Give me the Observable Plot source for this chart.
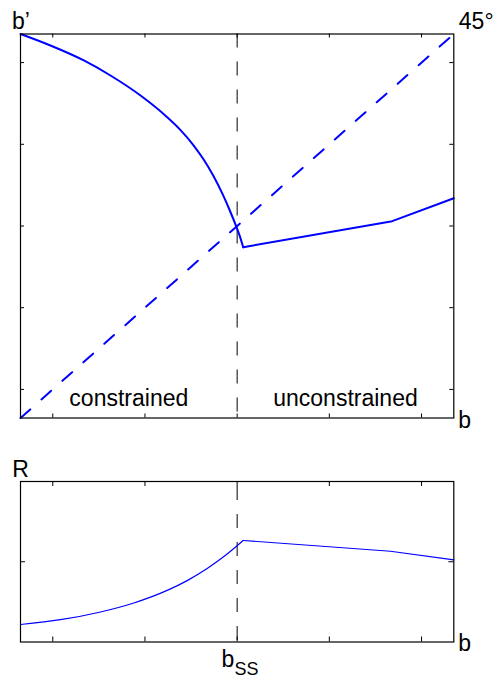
<!DOCTYPE html>
<html>
<head>
<meta charset="utf-8">
<script src="https://cdn.jsdelivr.net/npm/d3@7"></script>
<script src="https://cdn.jsdelivr.net/npm/@observablehq/plot@0.6"></script>
<style>
  html, body { margin: 0; padding: 0; background: #fff; }
  #chart svg { display: block; }
</style>
</head>
<body>
<div id="chart"></div>
<script>
// ---- data ----
const bTicks = [0, 1, 2, 3, 4];
const bPrimeTicks = [0, 1, 2, 3, 4];
const rTicks = [1];
const bSS = 2;
const bDomain = [-0.35, 4.35];
const rDomain = [0, 2];

// upper panel: policy b'(b)
const bConstrained =      [-0.35, -0.025, 0.337, 0.626, 0.952, 1.241, 1.386, 1.527, 1.635, 1.743, 1.841, 1.917, 1.990, 2.026, 2.066];
const bPrimeConstrained = [ 4.35,  4.209, 4.026, 3.842, 3.597, 3.332, 3.174, 2.988, 2.816, 2.611, 2.393, 2.199, 1.995, 1.886, 1.740];
const bUnconstrained =      [2.066, 3.682, 4.35];
const bPrimeUnconstrained = [1.740, 2.059, 2.340];
const diag45 = [-0.35, 4.35];

// lower panel: R(b)
const bR1 = [-0.35, 0.084, 0.518, 0.879, 1.241, 1.458, 1.675, 1.820, 1.928, 1.990, 2.066];
const R1 =  [ 0.218, 0.278, 0.374, 0.486, 0.643, 0.765, 0.916, 1.033, 1.131, 1.190, 1.265];
const bR2 = [2.066, 3.663, 4.35];
const R2 =  [1.265, 1.131, 1.024];

// ---- helpers ----
const zip = (xs, ys) => xs.map((x, i) => ({x, y: ys[i]}));
const FONT = "Liberation Sans, Arial, Helvetica, sans-serif";
const FS = 23;
const W = 497;
const mL = 20, mR = 43.7;
const frameW = W - mL - mR;

// ---- top panel ----
const topH = 450, topMT = 33.5, topMB = 32.5;
const topFH = topH - topMT - topMB;
const topChart = Plot.plot({
  width: W, height: topH,
  marginLeft: mL, marginRight: mR, marginTop: topMT, marginBottom: topMB,
  x: {domain: bDomain, axis: null},
  y: {domain: bDomain, axis: null},
  style: {fontFamily: FONT, background: "white", overflow: "visible"},
  marks: [
    Plot.ruleX([bSS], {stroke: "black", strokeWidth: 1, strokeDasharray: "14,14"}),
    Plot.line(zip(diag45, diag45), {x: "x", y: "y", stroke: "#0000ff", strokeWidth: 2, strokeDasharray: "13,15"}),
    Plot.line(zip(bConstrained, bPrimeConstrained), {x: "x", y: "y", stroke: "#0000ff", strokeWidth: 2, curve: "monotone-x"}),
    Plot.line(zip(bUnconstrained, bPrimeUnconstrained), {x: "x", y: "y", stroke: "#0000ff", strokeWidth: 2}),
    Plot.tickX(bTicks, {x: d => d, insetTop: topFH - 4, stroke: "black"}),
    Plot.tickX(bTicks, {x: d => d, insetBottom: topFH - 4, stroke: "black"}),
    Plot.tickY(bPrimeTicks, {y: d => d, insetRight: frameW - 4, stroke: "black"}),
    Plot.tickY(bPrimeTicks, {y: d => d, insetLeft: frameW - 4, stroke: "black"}),
    Plot.frame({stroke: "black", strokeWidth: 1.2}),
    Plot.text(["b\u2019"], {x: bDomain[0], y: bDomain[1], text: d => d, textAnchor: "middle", lineAnchor: "bottom", dy: -5.2, dx: 0.5, fontSize: FS, fill: "black"}),
    Plot.text(["45\u00b0"], {x: bDomain[1], y: bDomain[1], text: d => d, textAnchor: "start", lineAnchor: "bottom", dy: -5.2, dx: 5, fontSize: FS, fill: "black"}),
    Plot.text(["b"], {x: bDomain[1], y: bDomain[0], text: d => d, textAnchor: "start", lineAnchor: "bottom", dy: 9.5, dx: 4.5, fontSize: FS, fill: "black"}),
    Plot.text(["constrained"], {x: (bDomain[0] + bSS) / 2, y: bDomain[0], text: d => d, textAnchor: "middle", lineAnchor: "bottom", dy: -12.5, fontSize: FS, fill: "black"}),
    Plot.text(["unconstrained"], {x: (bSS + bDomain[1]) / 2, y: bDomain[0], text: d => d, textAnchor: "middle", lineAnchor: "bottom", dy: -12.5, fontSize: FS, fill: "black"})
  ]
});

// ---- bottom panel ----
const botH = 232, botMT = 31, botMB = 40.5;
const botFH = botH - botMT - botMB;
const bottomChart = Plot.plot({
  width: W, height: botH,
  marginLeft: mL, marginRight: mR, marginTop: botMT, marginBottom: botMB,
  x: {domain: bDomain, axis: null},
  y: {domain: rDomain, axis: null},
  style: {fontFamily: FONT, background: "white", overflow: "visible"},
  marks: [
    Plot.ruleX([bSS], {stroke: "black", strokeWidth: 1, strokeDasharray: "14,14", strokeDashoffset: -5}),
    Plot.line(zip(bR1, R1), {x: "x", y: "y", stroke: "#0000ff", strokeWidth: 1.2, curve: "monotone-x"}),
    Plot.line(zip(bR2, R2), {x: "x", y: "y", stroke: "#0000ff", strokeWidth: 1.2}),
    Plot.tickX(bTicks, {x: d => d, insetTop: botFH - 5, stroke: "black"}),
    Plot.tickX(bTicks, {x: d => d, insetBottom: botFH - 5, stroke: "black"}),
    Plot.tickY(rTicks, {y: d => d, insetRight: frameW - 5, stroke: "black"}),
    Plot.tickY(rTicks, {y: d => d, insetLeft: frameW - 5, stroke: "black"}),
    Plot.frame({stroke: "black", strokeWidth: 1.2}),
    Plot.text(["R"], {x: bDomain[0], y: rDomain[1], text: d => d, textAnchor: "middle", lineAnchor: "bottom", dy: -5, fontSize: FS, fill: "black"}),
    Plot.text(["b"], {x: bDomain[1], y: rDomain[0], text: d => d, textAnchor: "start", lineAnchor: "bottom", dy: 8.5, dx: 4.5, fontSize: FS, fill: "black"}),
    Plot.text(["b"], {x: bSS, y: rDomain[0], text: d => d, textAnchor: "start", lineAnchor: "bottom", dy: 25, dx: -15.7, fontSize: FS, fill: "black"}),
    Plot.text(["SS"], {x: bSS, y: rDomain[0], text: d => d, textAnchor: "start", lineAnchor: "bottom", dy: 32.5, dx: -2.7, fontSize: 18, fill: "black"})
  ]
});

const root = document.getElementById("chart");
root.appendChild(topChart);
root.appendChild(bottomChart);
</script>
</body>
</html>
